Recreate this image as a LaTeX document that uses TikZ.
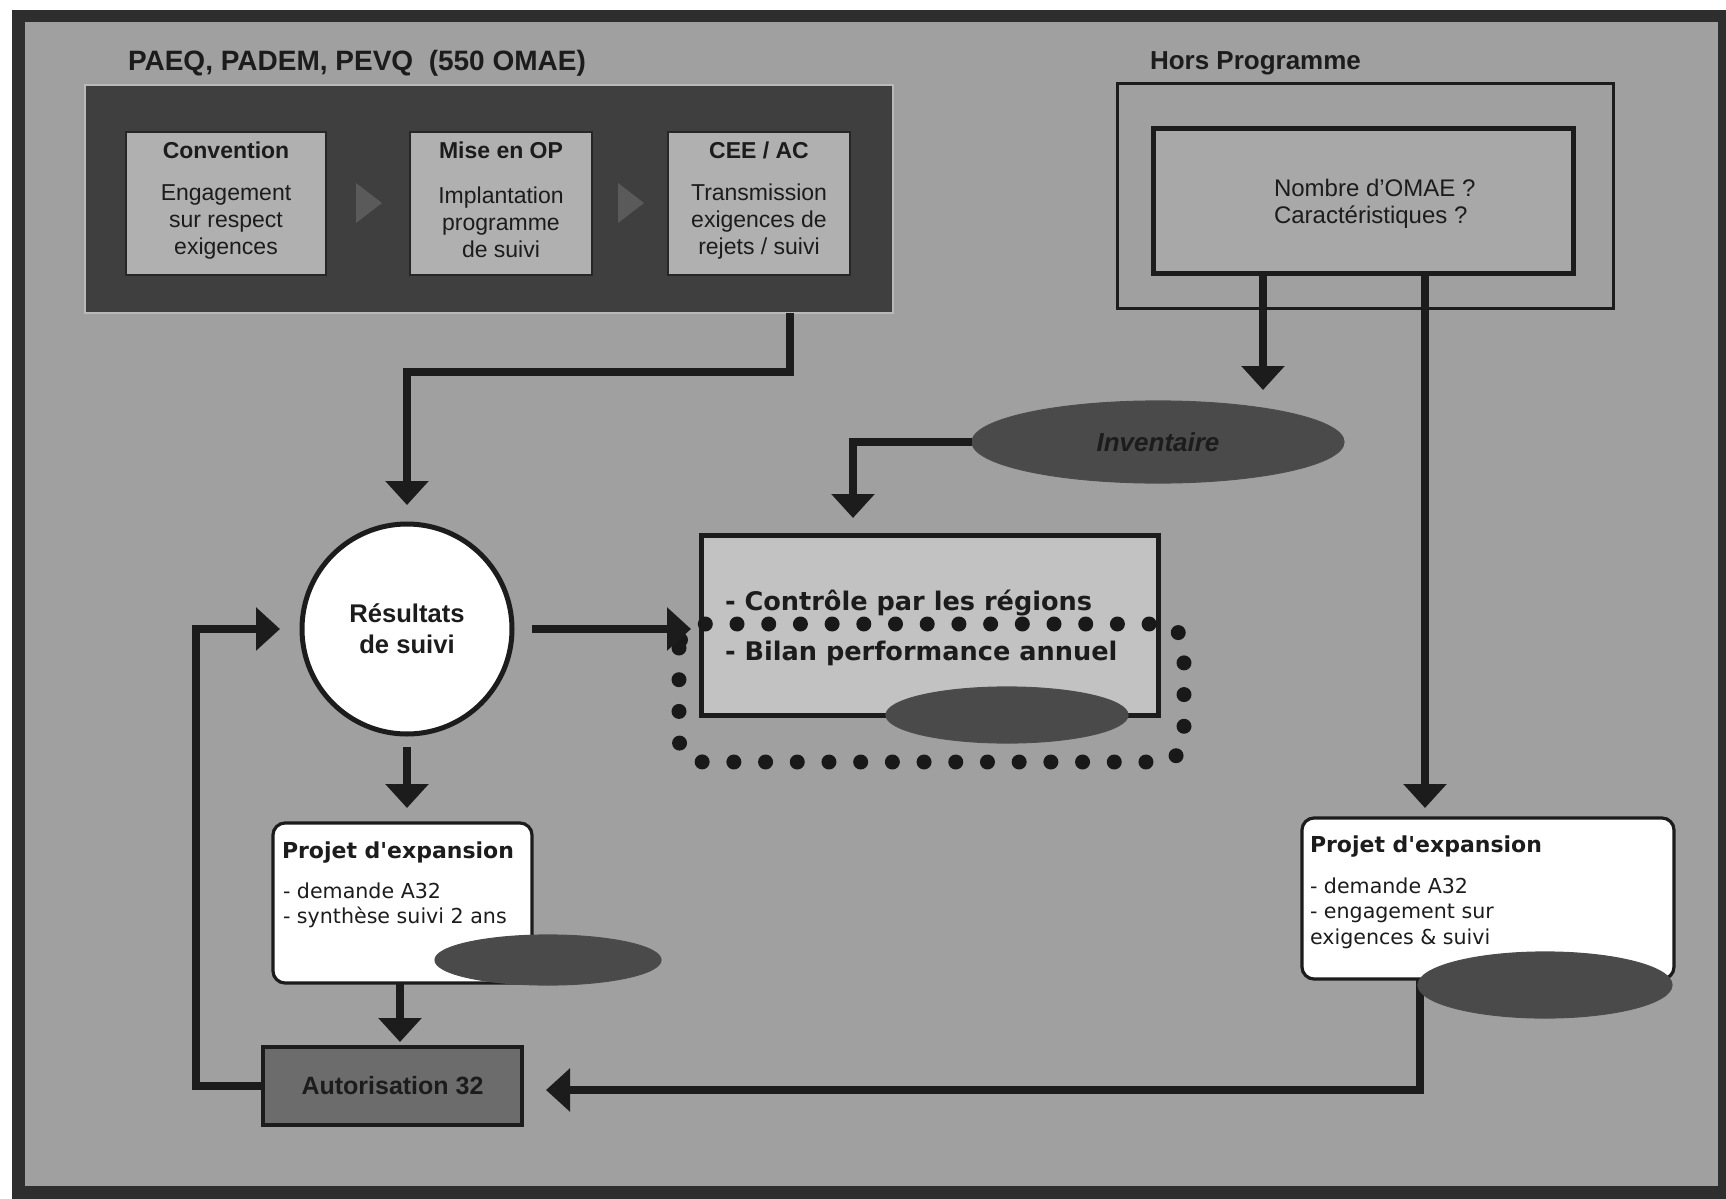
\documentclass[tikz,border=0pt]{standalone}
\usepackage{fontspec}
\setmainfont{Liberation Sans}
\newfontfamily\dvs{DejaVu Sans}
\usetikzlibrary{arrows.meta,shapes.geometric}
\definecolor{bgc}{HTML}{A0A0A0}
\definecolor{framec}{HTML}{2E2E2E}
\definecolor{darkc}{HTML}{3F3F3F}
\definecolor{innerc}{HTML}{B0B0B0}
\definecolor{lined}{HTML}{1C1C1C}
\definecolor{ellc}{HTML}{4A4A4A}
\definecolor{autoc}{HTML}{6C6C6C}
\definecolor{ctrlc}{HTML}{C2C2C2}
\definecolor{chevc}{HTML}{5A5A5A}
\begin{document}
\begin{tikzpicture}[x=0.5pt,y=-0.5pt,
  every node/.style={inner sep=0pt, outer sep=0pt, text=lined},
  conn/.style={line width=3.8pt, draw=lined, -{Triangle[width=21pt,length=12pt]}},
  innerbox/.style={draw=black!85, line width=0.8pt, fill=innerc, minimum height=71.5pt},
  btitle/.style={font=\bfseries\fontsize{11.5}{13}\selectfont},
  bbody/.style={align=center, font=\fontsize{11.5}{13.5}\selectfont},
  chev/.style={fill=chevc},
  whitebox/.style={draw=lined, line width=1.6pt, fill=white, rounded corners=6pt},
  ptitle/.style={font=\dvs\bfseries\fontsize{11}{13}\selectfont, anchor=west},
  pbody/.style={font=\dvs\fontsize{10.3}{12.8}\selectfont, anchor=west, align=left},
  darkell/.style={ellipse, fill=ellc, draw=black!70, line width=0.6pt},
  headline/.style={font=\bfseries\fontsize{14}{16}\selectfont, anchor=west}
]
\useasboundingbox (0,0) rectangle (1726,1199);
\fill[white] (0,0) rectangle (1726,1199);
\fill[framec] (12,10) rectangle (1726,1199);
\fill[bgc] (25,22) rectangle (1718,1186);

% ---------- PAEQ panel ----------
\node[headline] (ttl) at (128,63) {PAEQ, PADEM, PEVQ\ \ (550 OMAE)};
\node[draw=gray!55, line width=0.8pt, fill=darkc, minimum width=404pt, minimum height=114pt] (paeq) at (489,199) {};

\node[innerbox, minimum width=100pt] (conv) at (226,203.5) {};
\node[btitle] (convt) at (226,150) {Convention};
\node[bbody] (convb) at (226,222) {Engagement\\sur respect\\exigences};

\node[innerbox, minimum width=91pt] (mise) at (501,203.5) {};
\node[btitle] (miset) at (501,150) {Mise en OP};
\node[bbody] (miseb) at (501,222) {Implantation\\programme\\de suivi};

\node[innerbox, minimum width=91pt] (cee) at (759,203.5) {};
\node[btitle] (ceet) at (759,150) {CEE / AC};
\node[bbody] (ceeb) at (759,222) {Transmission\\exigences de\\rejets / suivi};

\fill[chev] (356,183) -- (382,203) -- (356,223) -- cycle;
\fill[chev] (618,183) -- (644,203) -- (618,223) -- cycle;

% ---------- Hors programme ----------
\node[headline, font=\bfseries\fontsize{13}{16}\selectfont] (hors) at (1150,63) {Hors Programme};
\node[draw=lined, line width=1.5pt, minimum width=248pt, minimum height=112.5pt] (houter) at (1365,195.5) {};
\node[draw=lined, line width=2.5pt, fill=bgc!92!white, minimum width=210pt, minimum height=72.5pt] (hinner) at (1363,200.5) {};
\node[anchor=west, align=left, font=\fontsize{12}{13.5}\selectfont] (htxt) at (1274,203.5) {Nombre d'OMAE ?\\Caractéristiques ?};

% ---------- Inventaire ----------
\node[darkell, minimum width=186pt, minimum height=41pt, font=\bfseries\itshape\fontsize{13}{15}\selectfont] (inv) at (1158,442) {Inventaire};

% ---------- central box ----------
\node[draw=lined, line width=2.5pt, fill=ctrlc, minimum width=228.5pt, minimum height=90pt] (ctrl) at (929.5,625) {};
\node[font=\dvs\bfseries\fontsize{12.8}{15}\selectfont, anchor=west] (ctrl1) at (725,603) {- Contrôle par les régions};
\node[font=\dvs\bfseries\fontsize{12.8}{15}\selectfont, anchor=west] (ctrl2) at (725,653) {- Bilan performance annuel};
\draw[line width=7.5pt, line cap=round, dash pattern=on 0pt off 15.85pt, rounded corners=12pt, draw=black!90] (679,624) rectangle (1184,762);
\node[darkell, minimum width=121pt, minimum height=28pt] (cell) at (1007,715) {};

% ---------- Résultats ----------
\node[circle, draw=lined, line width=2.5pt, fill=white, minimum size=105pt, align=center,
      font=\bfseries\fontsize{12.8}{15.5}\selectfont] (res) at (407,629) {Résultats\\de suivi};

% ---------- left projet ----------
\node[whitebox, minimum width=129.5pt, minimum height=80pt] (lproj) at (402.5,903) {};
\node[ptitle] (lprojt) at (282,853) {Projet d'expansion};
\node[pbody] (lprojb) at (283,905.5) {- demande A32\\- synthèse suivi 2 ans};
\node[darkell, minimum width=113pt, minimum height=25pt] (lell) at (548,960) {};

% ---------- Autorisation ----------
\node[draw=lined, line width=1.8pt, fill=autoc, minimum width=129.5pt, minimum height=39pt,
      font=\bfseries\fontsize{12.5}{14}\selectfont] (auto) at (392.5,1086) {Autorisation 32};

% ---------- right projet ----------
\node[whitebox, minimum width=186pt, minimum height=80.5pt] (rproj) at (1488,898.5) {};
\node[ptitle] (rprojt) at (1310,847) {Projet d'expansion};
\node[pbody] (rprojb) at (1310,913) {- demande A32\\- engagement sur\\exigences \& suivi};

% ---------- connectors ----------
\coordinate (k1) at (790,372);
\draw[conn] (paeq.south -| k1) -- (k1) -| ([yshift=9.5pt]res.north);
\coordinate (k2) at (853,518);
\draw[conn] (inv.west) -| (k2);
\coordinate (k3) at (1263,390);
\draw[conn] (hinner.south -| k3) -- (k3);
\coordinate (k4) at (1425,808);
\draw[conn] (hinner.south -| k4) -- (k4);
\draw[conn] ([xshift=10pt]res.east) -- ([xshift=-5pt]ctrl.west |- res.east);
\draw[conn] ([yshift=-6.5pt]res.south) -- ([yshift=7.5pt]lproj.north -| res.south);
\coordinate (k5) at (400,0);
\draw[conn] (lproj.south -| k5) -- ([yshift=2.5pt]auto.north -| k5);
\coordinate (k6) at (196,0);
\draw[conn] (auto.west) -| (k6 |- res.west) -- ([xshift=-11pt]res.west);
\coordinate (k7) at (1420,0);
\coordinate (k8) at (0,1090);
\draw[conn] (rproj.south -| k7) |- ([xshift=12pt]auto.east |- k8);
\node[darkell, minimum width=127pt, minimum height=33pt] (rell) at (1545,985) {};
\end{tikzpicture}
\end{document}
